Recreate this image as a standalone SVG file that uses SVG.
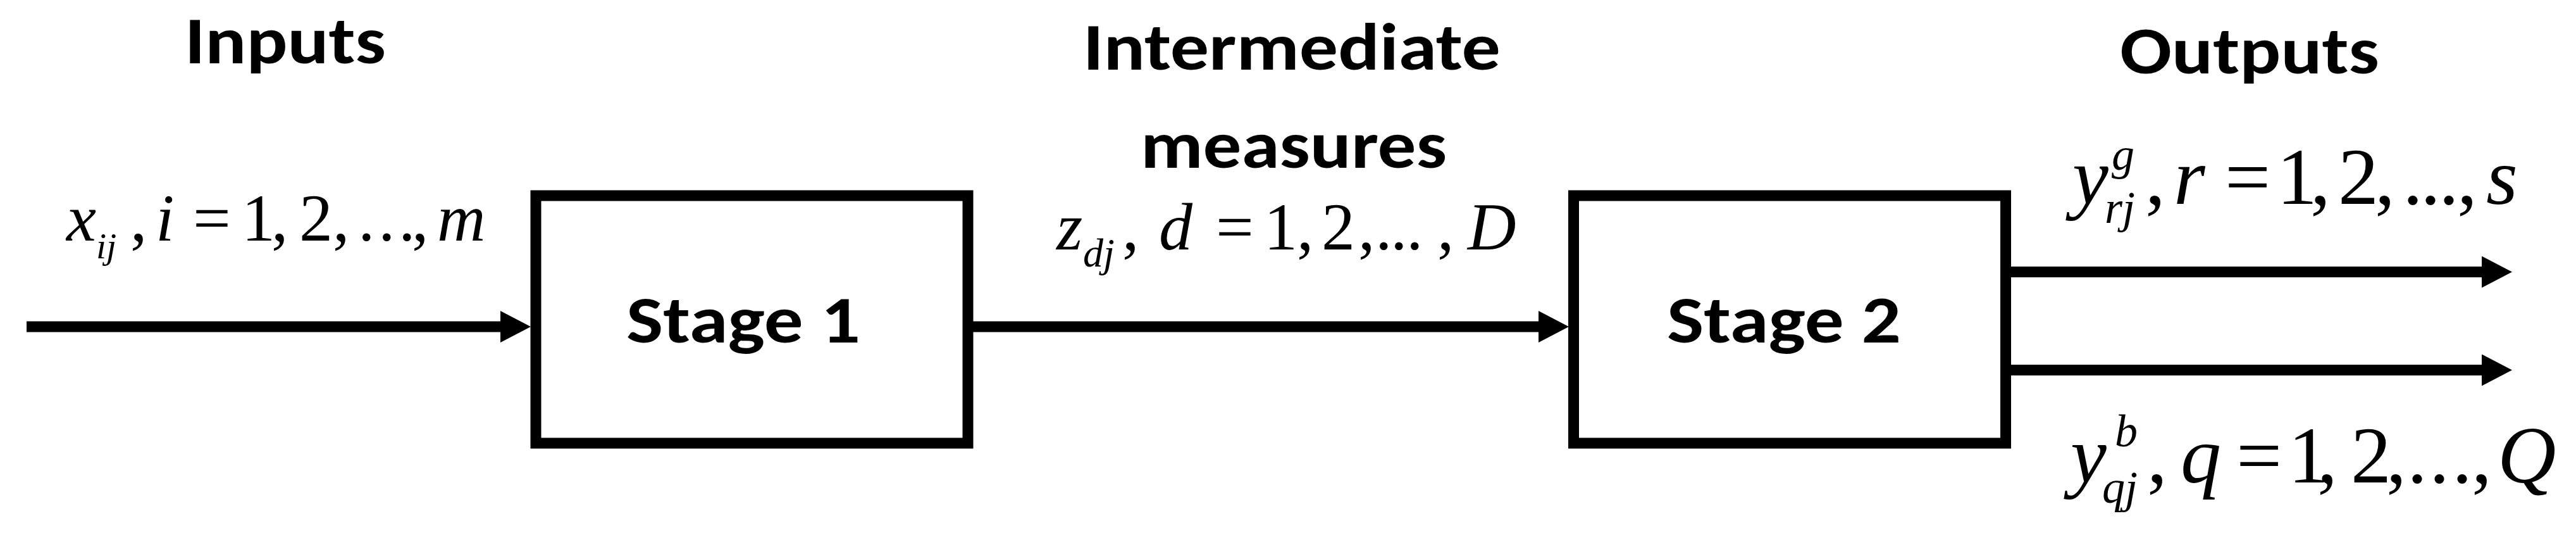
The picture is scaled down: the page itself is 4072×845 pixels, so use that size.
<svg xmlns="http://www.w3.org/2000/svg" width="4072" height="845" viewBox="0 0 4072 845">
<style>
.bg{fill:#ffffff}
.box{fill:#ffffff;stroke:#000000;stroke-width:17}
.lbl{font-family:Carlito,Lato,"Open Sans",sans-serif;font-weight:bold;font-size:106px;fill:#000000}
.m{font-family:"Liberation Serif","Times New Roman",serif;fill:#000000}
.it{font-style:italic}
.a{font-size:106px}
.b{font-size:128px}
.s1{font-size:58px}
.s2{font-size:64px}
.s3{font-size:72px}
.conn{fill:none;stroke:#000000;stroke-width:17}
</style>
<defs>
<marker id="head" markerUnits="userSpaceOnUse" markerWidth="48" markerHeight="50" viewBox="0 0 48 50" refX="8" refY="25" orient="auto">
<path d="M0,0 L48,25 L0,50 Z" fill="#000000"/>
</marker>
</defs>
<rect class="bg" x="0" y="0" width="4072" height="845"/>

<g id="connectors">
<path class="conn" d="M42,516 H799" marker-end="url(#head)"/>
<path class="conn" d="M1538,516 H2440" marker-end="url(#head)"/>
<path class="conn" d="M3179,429.5 H3931" marker-end="url(#head)"/>
<path class="conn" d="M3179,584.5 H3931" marker-end="url(#head)"/>
</g>

<g id="stage1">
<rect class="box" x="847" y="309" width="683" height="391"/>
<text class="lbl" x="990" y="541" textLength="370" lengthAdjust="spacingAndGlyphs">Stage 1</text>
</g>

<g id="stage2">
<rect class="box" x="2487.5" y="309" width="683" height="391"/>
<text class="lbl" x="2635" y="541" textLength="370" lengthAdjust="spacingAndGlyphs">Stage 2</text>
</g>

<g id="header-inputs">
<text class="lbl" x="292" y="99.5" textLength="318" lengthAdjust="spacingAndGlyphs">Inputs</text>
</g>
<g id="header-intermediate">
<text class="lbl" x="1712" y="110" textLength="660" lengthAdjust="spacingAndGlyphs">Intermediate</text>
<text class="lbl" x="1803" y="265" textLength="484" lengthAdjust="spacingAndGlyphs">measures</text>
</g>
<g id="header-outputs">
<text class="lbl" x="3351" y="116" textLength="410" lengthAdjust="spacingAndGlyphs">Outputs</text>
</g>

<g id="label-inputs">
<text class="m a" y="380"><tspan class="it" x="105">x</tspan><tspan class="it s1" x="152" y="408">ij</tspan><tspan x="206" y="380">,</tspan><tspan class="it" x="246">i</tspan><tspan x="305">=</tspan><tspan x="382">1</tspan><tspan x="429">,</tspan><tspan x="473">2</tspan><tspan x="526">,</tspan><tspan x="566">.</tspan><tspan x="598">.</tspan><tspan x="630">.</tspan><tspan x="651">,</tspan><tspan class="it" x="691">m</tspan></text>
</g>

<g id="label-intermediate">
<text class="m a" y="394"><tspan class="it" x="1670">z</tspan><tspan class="it s2" x="1712" y="421">dj</tspan><tspan x="1774" y="394">,</tspan><tspan class="it" x="1832">d</tspan><tspan x="1922">=</tspan><tspan x="1998">1</tspan><tspan x="2050">,</tspan><tspan x="2089">2</tspan><tspan x="2147">,</tspan><tspan x="2174">.</tspan><tspan x="2198">.</tspan><tspan x="2223">.</tspan><tspan x="2272">,</tspan><tspan class="it" x="2320">D</tspan></text>
</g>

<g id="label-good-outputs">
<text class="m b" y="322"><tspan class="it" x="3276">y</tspan><tspan class="it s3" x="3338" y="268">g</tspan><tspan class="it s3" x="3327" y="352">rj</tspan><tspan x="3391" y="322">,</tspan><tspan class="it" x="3436">r</tspan><tspan x="3517">=</tspan><tspan x="3599">1</tspan><tspan x="3652">,</tspan><tspan x="3696">2</tspan><tspan x="3754">,</tspan><tspan x="3798">.</tspan><tspan x="3826">.</tspan><tspan x="3855">.</tspan><tspan x="3884">,</tspan><tspan class="it" x="3930">s</tspan></text>
</g>

<g id="label-bad-outputs">
<text class="m b" y="762"><tspan class="it" x="3273">y</tspan><tspan class="it s3" x="3343" y="705">b</tspan><tspan class="it s3" x="3323" y="794">qj</tspan><tspan x="3394" y="762">,</tspan><tspan class="it" x="3447">q</tspan><tspan x="3535">=</tspan><tspan x="3617">1</tspan><tspan x="3663">,</tspan><tspan x="3716">2</tspan><tspan x="3772">,</tspan><tspan x="3805">.</tspan><tspan x="3840">.</tspan><tspan x="3876">.</tspan><tspan x="3907">,</tspan><tspan class="it" x="3948">Q</tspan></text>
</g>
</svg>
